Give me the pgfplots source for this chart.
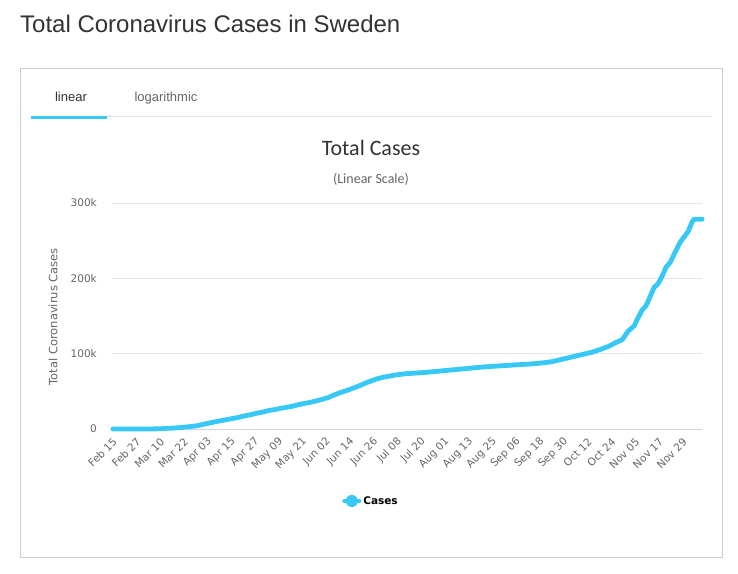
\documentclass[border=0pt]{standalone}
\usepackage{fontspec}
\setmainfont{Liberation Sans}
\newfontfamily\dejavu{DejaVu Sans}
\newfontfamily\carlito{Carlito}
\usepackage{pgfplots}
\pgfplotsset{compat=1.18}
\usepackage{pgfplotstable}
\definecolor{casecol}{RGB}{56,200,246}
\definecolor{c333}{HTML}{333333}
\definecolor{c666}{HTML}{666666}
\definecolor{gridc}{HTML}{E6E6E6}
\definecolor{axc}{HTML}{CCD6EB}
\definecolor{boxc}{HTML}{CCCCCC}

\pgfplotstableread{
d v
0 1
6 1
12 7
18 60
22 200
24 400
27 900
30 1200
33 1700
36 2500
39 3300
42 4300
45 6000
48 7800
51 9500
54 11000
57 12500
60 14000
63 15500
66 17500
69 19000
72 21000
75 22500
78 24500
81 25800
84 27500
87 28800
90 30300
93 32500
96 34000
99 35500
102 37500
105 39500
108 42000
111 45500
114 48500
117 51000
120 54000
123 57000
126 60500
129 63500
132 66500
135 68500
138 70000
141 71500
144 72500
147 73500
150 74000
156 75000
162 76500
168 78000
174 79500
180 81000
186 82500
192 83500
198 84500
204 85500
210 86500
216 88000
220 89500
224 92000
228 94500
232 97000
236 99500
240 102000
244 105500
248 109500
252 115000
255 118500
258 130000
261 137000
263 148000
265 158000
267 164000
269 176000
271 188000
273 193000
275 203000
277 215000
279 221000
281 232000
284 248000
286 255000
288 262000
290 275000
291 278500
295 278500
}\cases

\begin{document}
\begin{tikzpicture}
\path[fill=white, use as bounding box] (0,0) rectangle (738pt,573pt);
% page title
\node[anchor=base west, inner sep=0, text=c333] at (20pt,540pt) {\fontsize{24}{29}\selectfont Total Coronavirus Cases in Sweden};
% box
\draw[boxc, line width=0.8pt] (20.5pt,504.5pt) rectangle (722pt,16pt);
% tabs
\node[anchor=base, inner sep=0, text=c333] at (71pt,471pt) {\fontsize{13}{15}\selectfont linear};
\node[anchor=base, inner sep=0, text=c666] at (166pt,471pt) {\fontsize{13}{15}\selectfont logarithmic};
\draw[gridc, line width=0.8pt] (107pt,456.6pt) -- (712pt,456.6pt);
\fill[casecol] (31pt,453.5pt) rectangle (107pt,457pt);
% chart titles
\node[anchor=base, inner sep=0, text=c333] at (371pt,417.3pt) {\carlito\fontsize{22}{26}\selectfont Total Cases};
\node[anchor=base, inner sep=0, text=c666] at (371pt,389pt) {\carlito\fontsize{14}{16}\selectfont (Linear Scale)};
% y label
\node[rotate=90, inner sep=0, text=c666] at (53pt,256.3pt) {\dejavu\fontsize{11.5}{13}\selectfont Total Coronavirus Cases};

\begin{axis}[
  at={(112pt,144pt)}, anchor=south west,
  scale only axis, width=590pt, height=226pt,
  xmin=-0.5, xmax=297.6, ymin=0, ymax=300000,
  clip=false,
  axis lines=left,
  axis line style={-},
  y axis line style={draw=none},
  x axis line style={draw=axc, line width=0.9pt},
  major tick length=0pt,
  ymajorgrids, grid style={gridc, line width=0.8pt},
  xtick={0,12,...,288},
  xticklabels={Feb 15,Feb 27,Mar 10,Mar 22,Apr 03,Apr 15,Apr 27,May 09,May 21,Jun 02,Jun 14,Jun 26,Jul 08,Jul 20,Aug 01,Aug 13,Aug 25,Sep 06,Sep 18,Sep 30,Oct 12,Oct 24,Nov 05,Nov 17,Nov 29},
  ytick={0,100000,200000,300000},
  yticklabels={0,100k,200k,300k},
  scaled y ticks=false,
  xticklabel style={xshift=2pt, yshift=-11pt, rotate=45, anchor=east, inner sep=0pt, text=c666, font=\dejavu\fontsize{10.5}{12}\selectfont},
  yticklabel style={anchor=east, inner sep=0pt, xshift=-15pt, text=c666, font=\dejavu\fontsize{10.5}{12}\selectfont},
  legend style={at={(0.439,-0.3186)}, anchor=center, draw=none, fill=none,
    font=\dejavu\bfseries\fontsize{10.5}{12}\selectfont, inner sep=0pt},
  legend image code/.code={
    \draw[casecol, line width=4pt] (0pt,0pt) -- (15pt,0pt);
    \fill[casecol] (7.5pt,0pt) circle (3.8pt);
  },
]
\addplot[casecol, line width=4.8pt, line join=round, line cap=round] table[x expr=\thisrow{d}*1.009, y=v] {\cases};
\addlegendentry{Cases}
\end{axis}
\end{tikzpicture}
\end{document}
